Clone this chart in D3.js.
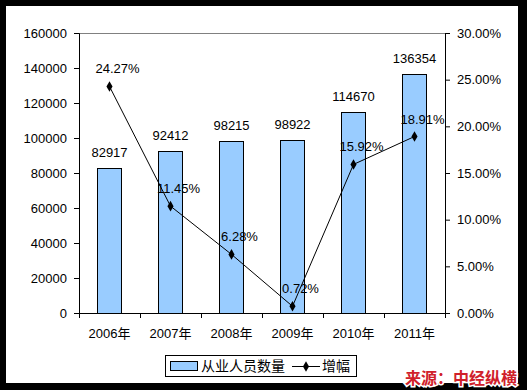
<!DOCTYPE html>
<html><head><meta charset="utf-8">
<script src="https://cdn.jsdelivr.net/npm/d3@7/dist/d3.min.js"></script>
<style>
html,body{margin:0;padding:0;background:#000;}
svg{display:block;}
text{font-family:"Liberation Sans",Arial,"Noto Sans CJK SC",sans-serif;}
</style></head>
<body>
<svg id="c" width="527" height="390"></svg>
<script>
const categories = ["2006年","2007年","2008年","2009年","2010年","2011年"];
const employees = [82917, 92412, 98215, 98922, 114670, 136354];
const growth = [24.27, 11.45, 6.28, 0.72, 15.92, 18.91];
const leftTicks = [0,20000,40000,60000,80000,100000,120000,140000,160000];
const rightTicks = [0,5,10,15,20,25,30];
const legendLabels = ["从业人员数量","增幅"];
const sourceText = "来源：中经纵横";

const svg = d3.select("#c");
svg.append("rect").attr("x",0).attr("y",0).attr("width",527).attr("height",390).attr("fill","#000");
svg.append("rect").attr("x",6).attr("y",6).attr("width",512).attr("height",377).attr("fill","#fff");

const L=79, R=445, T=33, B=313;
const x = d3.scaleBand().domain(categories).range([L,R]).padding(0);
const yL = d3.scaleLinear().domain([0,160000]).range([B,T]);
const yR = d3.scaleLinear().domain([0,30]).range([B,T]);
const fs = "13px";

// top border
svg.append("line").attr("x1",L).attr("x2",R).attr("y1",T+0.5).attr("y2",T+0.5).attr("stroke","#808080");

// bars
const bw = x.bandwidth()*0.4;
svg.selectAll("rect.bar").data(employees).enter().append("rect").attr("class","bar")
  .attr("x",(d,i)=>Math.round(x(categories[i])+x.bandwidth()/2-bw/2)+0.5)
  .attr("y",d=>Math.round(yL(d))+0.5)
  .attr("width",Math.round(bw))
  .attr("height",d=>B-Math.round(yL(d)))
  .attr("fill","#99ccff").attr("stroke","#000").attr("stroke-width",1);

// bar labels
svg.selectAll("text.bl").data(employees).enter().append("text")
  .attr("x",(d,i)=>x(categories[i])+x.bandwidth()/2)
  .attr("y",d=>yL(d)-11)
  .attr("text-anchor","middle").attr("font-size",fs).attr("fill","#000")
  .text(d=>d);

// axes
const gl = svg.append("g").attr("transform",`translate(${L},0)`)
  .call(d3.axisLeft(yL).tickValues(leftTicks).tickSize(5).tickPadding(7).tickFormat(d=>d));
const gr = svg.append("g").attr("transform",`translate(${R},0)`)
  .call(d3.axisRight(yR).tickValues(rightTicks).tickSize(5).tickPadding(7).tickFormat(d=>d.toFixed(2)+"%"));
const gb = svg.append("g").attr("transform",`translate(0,${B})`)
  .call(d3.axisBottom(x).tickSize(0).tickPadding(16));
[gl,gr,gb].forEach(g=>{
  g.selectAll("text").attr("font-size",fs).attr("fill","#000").attr("font-family","'Liberation Sans',Arial,'Noto Sans CJK SC',sans-serif");
  g.selectAll("path,line").attr("stroke","#000");
});
// category boundary ticks
const bounds = categories.map(c=>x(c)).concat([R]);
svg.selectAll("line.bt").data(bounds).enter().append("line")
  .attr("x1",d=>Math.round(d)+0.5).attr("x2",d=>Math.round(d)+0.5)
  .attr("y1",B).attr("y2",B+5).attr("stroke","#000");

// growth line
const pts = growth.map((g,i)=>[x(categories[i])+x.bandwidth()/2, yR(g)]);
svg.append("path").attr("d",d3.line()(pts)).attr("fill","none").attr("stroke","#000").attr("stroke-width",1);
svg.selectAll("path.mk").data(pts).enter().append("path")
  .attr("transform",d=>`translate(${d[0]},${d[1]})`)
  .attr("d",d3.symbol().type(d3.symbolDiamond).size(32)).attr("fill","#000");
svg.selectAll("text.gl").data(growth).enter().append("text")
  .attr("x",(d,i)=>pts[i][0]+8)
  .attr("y",(d,i)=>pts[i][1]-13)
  .attr("text-anchor","middle").attr("font-size",fs).attr("fill","#000")
  .text(d=>d.toFixed(2)+"%");

// legend
const lg = svg.append("g");
lg.append("rect").attr("x",165.5).attr("y",355.5).attr("width",191).attr("height",21).attr("fill","#fff").attr("stroke","#000");
lg.append("rect").attr("x",170.5).attr("y",361.5).attr("width",27).attr("height",9).attr("fill","#99ccff").attr("stroke","#000");
lg.append("text").attr("x",201).attr("y",371).attr("font-size","14px").attr("font-family","'Noto Sans CJK SC',sans-serif").text(legendLabels[0]);
lg.append("line").attr("x1",292).attr("x2",320).attr("y1",366.5).attr("y2",366.5).attr("stroke","#000");
lg.append("path").attr("transform","translate(306,366.5)").attr("d",d3.symbol().type(d3.symbolDiamond).size(32)).attr("fill","#000");
lg.append("text").attr("x",322).attr("y",371).attr("font-size","14px").attr("font-family","'Noto Sans CJK SC',sans-serif").text(legendLabels[1]);

// source
svg.append("text").attr("x",517).attr("y",384).attr("text-anchor","end")
  .attr("font-size","16px").attr("font-weight","bold").attr("font-family","'Noto Sans CJK SC',sans-serif")
  .attr("fill","#d0202a").attr("stroke","#fff").attr("stroke-width",3).attr("paint-order","stroke")
  .text(sourceText);
</script>
</body></html>
